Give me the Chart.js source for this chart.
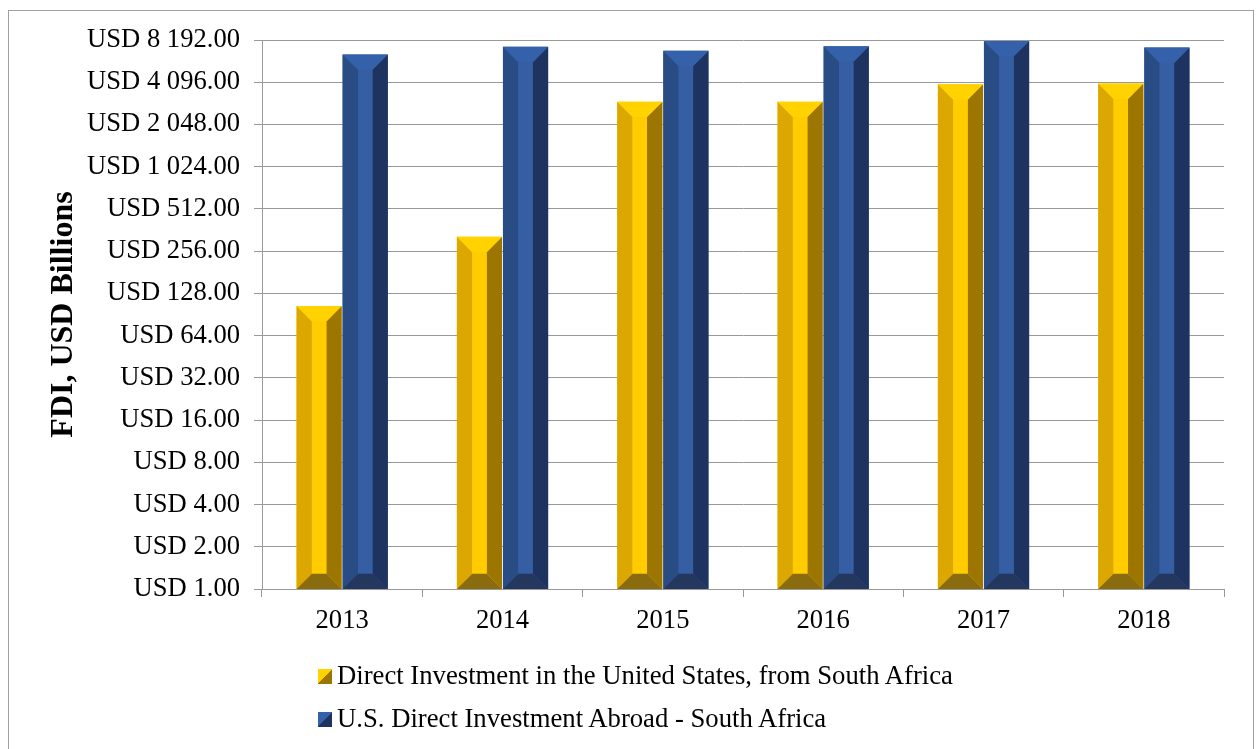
<!DOCTYPE html>
<html>
<head>
<meta charset="utf-8">
<script src="https://cdn.jsdelivr.net/npm/chart.js@4/dist/chart.umd.min.js"></script>
<style>
    body { margin: 0; background: #fff; }
    #wrap { position: relative; width: 1258px; height: 749px; overflow: hidden; }
    #frame { position: absolute; left: 8px; top: 10px; width: 1244px; height: 760px; border: 1px solid #a0a0a0; }
    #fdiChart { position: absolute; left: 0; top: 0; }
    #legend { position: absolute; left: 318px; top: 654px; font-family: "Liberation Serif", "Times New Roman", serif; font-size: 26.7px; color: #000; }
    .item { height: 43px; line-height: 43px; display: flex; align-items: center; }
    .swatch { width: 14px; height: 15px; margin-right: 5px; margin-top: 2px; }
</style>
</head>
<body>
<div id="wrap">
    <div id="frame"></div>
    <canvas id="fdiChart" width="1258" height="749"></canvas>
    <div id="legend"></div>
</div>
<script>
let years = ["2013", "2014", "2015", "2016", "2017", "2018"];
let inflowFromSA = [104, 324, 2975, 2975, 3960, 4010];
let usAbroadSA = [6470, 7330, 6880, 7380, 8060, 7230];
let tickValues = [1, 2, 4, 8, 16, 32, 64, 128, 256, 512, 1024, 2048, 4096, 8192];

let seriesNames = [
    "Direct Investment in the United States, from South Africa",
    "U.S. Direct Investment Abroad - South Africa"
];

// face colours for the bevelled columns: left, middle, right, top, bottom
let faces = [
    { left: "#dca700", mid: "#ffcc00", right: "#9c7600", top: "#ffd200", bottom: "#8a6b0e" },
    { left: "#2a4c84", mid: "#365ea3", right: "#1f3360", top: "#3461aa", bottom: "#24375f" }
];

let serif = "'Liberation Serif', 'Times New Roman', serif";

function usd(v) {
    let parts = v.toFixed(2).split(".");
    return "USD " + parts[0].replace(/\B(?=(\d{3})+(?!\d))/g, " ") + "." + parts[1];
}

function poly(ctx, pts, color) {
    ctx.beginPath();
    ctx.moveTo(pts[0][0], pts[0][1]);
    for (let i = 1; i < pts.length; i++) ctx.lineTo(pts[i][0], pts[i][1]);
    ctx.closePath();
    ctx.fillStyle = color;
    ctx.fill();
}

// paint each bar as a bevelled column on top of the plain bar
let bevelBars = {
    id: "bevelBars",
    afterDatasetsDraw(chart) {
        let ctx = chart.ctx;
        chart.data.datasets.forEach((ds, di) => {
            let f = faces[di];
            chart.getDatasetMeta(di).data.forEach(bar => {
                let p = bar.getProps(["x", "y", "base", "width"], true);
                let L = p.x - p.width / 2, R = p.x + p.width / 2;
                let T = p.y, B = p.base;
                let b = Math.min(p.width * 0.34, (B - T) / 2);
                ctx.save();
                poly(ctx, [[L, T], [L + b, T + b], [L + b, B - b], [L, B]], f.left);
                poly(ctx, [[R, T], [R - b, T + b], [R - b, B - b], [R, B]], f.right);
                poly(ctx, [[L + b, T + b], [R - b, T + b], [R - b, B - b], [L + b, B - b]], f.mid);
                poly(ctx, [[L, T], [R, T], [R - b, T + b], [L + b, T + b]], f.top);
                poly(ctx, [[L, B], [R, B], [R - b, B - b], [L + b, B - b]], f.bottom);
                ctx.restore();
            });
        });
    }
};

let ctx = document.getElementById("fdiChart").getContext("2d");
let fdiChart = new Chart(ctx, {
    type: "bar",
    data: {
        labels: years,
        datasets: [
            { label: seriesNames[0], data: inflowFromSA, backgroundColor: faces[0].mid },
            { label: seriesNames[1], data: usAbroadSA, backgroundColor: faces[1].mid }
        ]
    },
    options: {
        responsive: false,
        animation: false,
        layout: { padding: { top: 40, left: 0, right: 34, bottom: 100 } },
        datasets: { bar: { categoryPercentage: 0.575, barPercentage: 0.98, borderWidth: 0 } },
        plugins: {
            legend: { display: false },
            tooltip: { enabled: false }
        },
        scales: {
            x: {
                grid: { offset: true, drawOnChartArea: false, drawTicks: true, tickLength: 8, color: "#999" },
                border: { color: "#999" },
                ticks: { color: "#000", font: { family: serif, size: 26.6 }, padding: 8 },
                afterFit(scale) { scale.height = 60; }
            },
            y: {
                type: "logarithmic",
                min: 1,
                max: 8192,
                grid: { color: "#999", tickLength: 8 },
                border: { color: "#999" },
                ticks: {
                    color: "#000",
                    font: { family: serif, size: 26.6 },
                    padding: 14,
                    callback: v => usd(v)
                },
                afterBuildTicks(scale) {
                    scale.ticks = tickValues.map(v => ({ value: v }));
                },
                afterFit(scale) { scale.width = 262; },
                title: {
                    display: true,
                    text: "FDI, USD Billions",
                    color: "#000",
                    font: { family: serif, size: 32, weight: "bold" },
                    padding: { top: 45 }
                }
            }
        }
    },
    plugins: [bevelBars]
});

// legend rows, one per series, with a split swatch
let legendBox = document.getElementById("legend");
fdiChart.data.datasets.forEach((ds, i) => {
    let row = document.createElement("div");
    row.className = "item";
    let sw = document.createElement("span");
    sw.className = "swatch";
    sw.style.background = "linear-gradient(to bottom right, " + faces[i].top + " 50%, " + faces[i].right + " 50%)";
    let txt = document.createElement("span");
    txt.textContent = ds.label;
    row.appendChild(sw);
    row.appendChild(txt);
    legendBox.appendChild(row);
});
</script>
</body>
</html>
